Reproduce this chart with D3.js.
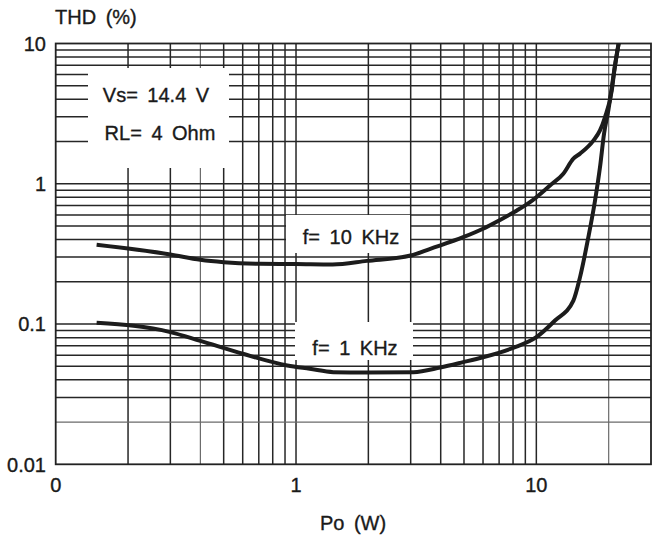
<!DOCTYPE html>
<html>
<head>
<meta charset="utf-8">
<script src="https://cdn.jsdelivr.net/npm/d3@7"></script>
<style>
  body { margin: 0; background: #fff; }
  svg { display: block; font-family: "Liberation Sans", Arial, sans-serif; }
  .grid line { stroke: #262626; stroke-width: 1.5; }
  .grid line.light { stroke: #6a6a6a; stroke-width: 1.2; }
  .lbl { font-size: 20px; fill: #1a1a1a; stroke: #1a1a1a; stroke-width: 0.35; word-spacing: 4px; }
</style>
</head>
<body>
<div id="chart"></div>
<script>
const width = 668, height = 539;

// tick values and labels
const xTicks = [0.1, 1, 10];
const xTickLabels = ["0", "1", "10"];
const yTicks = [0.01, 0.1, 1, 10];
const yTickLabels = ["0.01", "0.1", "1", "10"];

// gridlines
const xGrid = [0.2, 0.3, 0.4, 0.5, 0.6, 0.7, 0.8, 0.9, 1, 2, 3, 4, 5, 6, 7, 8, 9, 10, 20];
const yGrid = [0.02, 0.03, 0.04, 0.05, 0.06, 0.07, 0.08, 0.09, 0.1,
               0.2, 0.3, 0.4, 0.5, 0.6, 0.7, 0.8, 0.9, 1,
               2, 3, 4, 5, 6, 7, 8, 9];
const lightX = [0.4, 20];
const lightY = [0.02];

// f = 10 KHz
const po10k  = [0.148, 0.30, 0.40, 0.50, 0.71, 1.0, 1.42, 1.97, 3.0, 3.62, 4.96, 6.0, 7.0, 8.3, 9.41, 11.4, 12.95, 14.26, 15.2, 17.27, 18.4, 19.3, 20.6, 21.2, 22.0];
const thd10k = [0.367, 0.313, 0.287, 0.276, 0.269, 0.268, 0.266, 0.282, 0.308, 0.344, 0.416, 0.478, 0.548, 0.645, 0.739, 0.972, 1.18, 1.51, 1.64, 2.03, 2.40, 2.98, 4.62, 6.78, 10];

// f = 1 KHz
const po1k  = [0.148, 0.30, 0.40, 0.60, 0.92, 1.14, 1.43, 1.98, 3.08, 3.98, 4.96, 6.0, 8.0, 10.0, 11.96, 14.26, 15.2, 16.46, 17.55, 18.4, 19.13, 19.93, 21.2, 22.0];
const thd1k = [0.102, 0.0876, 0.0758, 0.0614, 0.0507, 0.048, 0.0454, 0.0451, 0.0454, 0.049, 0.0535, 0.058, 0.0676, 0.0806, 0.106, 0.147, 0.216, 0.416, 0.76, 1.31, 2.27, 3.33, 6.78, 10];

const svg = d3.select("#chart").append("svg")
    .attr("width", width).attr("height", height);

const x = d3.scaleLog().domain([0.1, 30]).range([55.7, 651]);
const y = d3.scaleLog().domain([0.01, 10]).range([464.3, 43.5]);

// grid
const grid = svg.append("g").attr("class", "grid");
grid.selectAll(".vx").data(xGrid).join("line")
    .attr("class", d => lightX.includes(d) ? "light" : null)
    .attr("x1", d => x(d)).attr("x2", d => x(d))
    .attr("y1", y.range()[0]).attr("y2", y.range()[1]);
grid.selectAll(".hy").data(yGrid).join("line")
    .attr("class", d => lightY.includes(d) ? "light" : null)
    .attr("x1", x.range()[0]).attr("x2", x.range()[1])
    .attr("y1", d => y(d)).attr("y2", d => y(d));

// frame
svg.append("rect")
    .attr("x", x.range()[0]).attr("y", y.range()[1])
    .attr("width", x.range()[1] - x.range()[0])
    .attr("height", y.range()[0] - y.range()[1])
    .attr("fill", "none").attr("stroke", "#222").attr("stroke-width", 1.8);

// white label boxes (cover gridlines)
const boxes = [
  {x0: 88, x1: 229, y0: 68, y1: 168},
  {x0: 286, x1: 410, y0: 215, y1: 253},
  {x0: 295, x1: 413, y0: 322, y1: 360}
];
svg.selectAll(".box").data(boxes).join("rect")
    .attr("x", d => d.x0).attr("y", d => d.y0)
    .attr("width", d => d.x1 - d.x0).attr("height", d => d.y1 - d.y0)
    .attr("fill", "#fff");

// curves
const line = d3.line().x(d => x(d[0])).y(d => y(d[1])).curve(d3.curveMonotoneX);
const series = [d3.zip(po10k, thd10k), d3.zip(po1k, thd1k)];
svg.selectAll(".curve").data(series).join("path")
    .attr("d", line)
    .attr("fill", "none").attr("stroke", "#1c1c1c")
    .attr("stroke-width", 4).attr("stroke-linejoin", "round");

// axes labels
svg.selectAll(".ytl").data(yTicks).join("text")
    .attr("class", "lbl")
    .attr("x", 46).attr("y", d => y(d)).attr("dy", "0.36em")
    .attr("text-anchor", "end")
    .text((d, i) => yTickLabels[i]);
svg.selectAll(".xtl").data(xTicks).join("text")
    .attr("class", "lbl")
    .attr("x", d => x(d)).attr("y", 492)
    .attr("text-anchor", "middle")
    .text((d, i) => xTickLabels[i]);

svg.append("text").attr("class", "lbl").attr("x", 55).attr("y", 24).text("THD (%)");
svg.append("text").attr("class", "lbl").attr("x", 353).attr("y", 530)
    .attr("text-anchor", "middle").text("Po (W)");

svg.append("text").attr("class", "lbl").attr("x", 156).attr("y", 102)
    .attr("text-anchor", "middle").text("Vs= 14.4 V");
svg.append("text").attr("class", "lbl").attr("x", 160).attr("y", 140)
    .attr("text-anchor", "middle").text("RL= 4 Ohm");
svg.append("text").attr("class", "lbl").attr("x", 351).attr("y", 244)
    .attr("text-anchor", "middle").text("f= 10 KHz");
svg.append("text").attr("class", "lbl").attr("x", 355).attr("y", 355)
    .attr("text-anchor", "middle").text("f= 1 KHz");
</script>
</body>
</html>
